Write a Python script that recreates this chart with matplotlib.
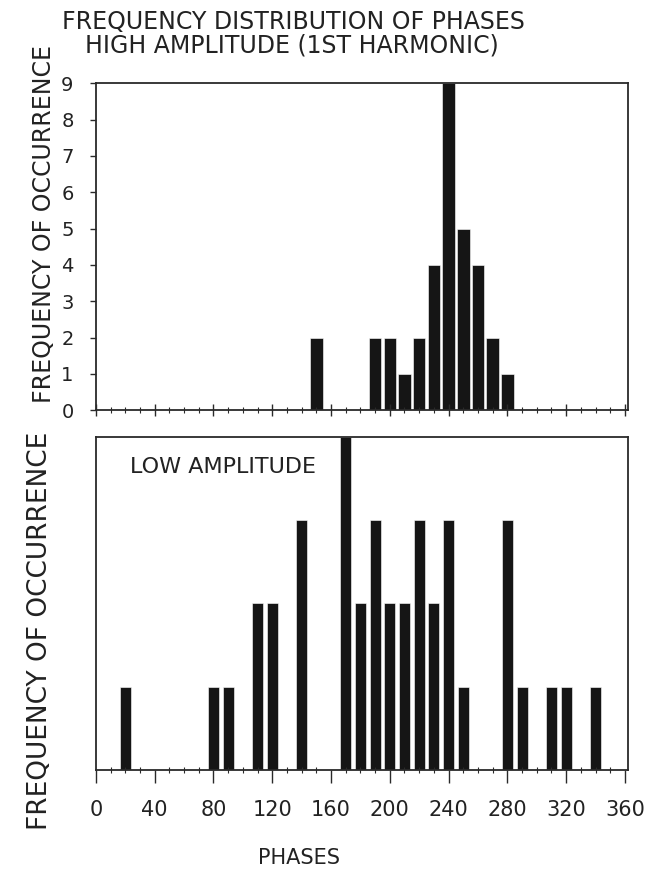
import matplotlib

matplotlib.use("Agg")
import matplotlib.pyplot as plt
import numpy as np

# ---------- data ----------
high_phase = [150, 190, 200, 210, 220, 230, 240, 250, 260, 270, 280]
high_count = [2, 2, 2, 1, 2, 4, 9, 5, 4, 2, 1]

low_phase = [20, 80, 90, 110, 120, 140, 170, 180, 190, 200, 210, 220, 230, 240, 250, 280, 290, 310, 320, 340]
low_count = [1, 1, 1, 2, 2, 3, 4, 2, 3, 2, 2, 3, 2, 3, 1, 3, 1, 1, 1, 1]

x_major = list(range(0, 361, 40))
x_minor = list(range(0, 361, 10))
high_yticks = list(range(0, 10))

INK = "#151515"
FRAME = "#2a2a2a"

fig = plt.figure(figsize=(6.52, 8.86), dpi=100)
fig.patch.set_facecolor("white")

ax1 = fig.add_axes([0.147, 0.537, 0.816, 0.369])
ax2 = fig.add_axes([0.147, 0.131, 0.816, 0.376])

# ---------- top: high amplitude ----------
ax1.bar(high_phase, high_count, width=8.5, color=INK, edgecolor="white", linewidth=0.4)
ax1.set_xlim(0, 362)
ax1.set_ylim(0, 9)
ax1.set_yticks(high_yticks)
ax1.set_yticklabels([str(v) for v in high_yticks], fontsize=14, color="#222")
ax1.set_xticks(x_major)
ax1.set_xticks(x_minor, minor=True)
ax1.set_xticklabels([])
ax1.tick_params(axis="y", direction="out", length=4, width=1, colors=FRAME, labelcolor="#222", pad=12)
ax1.tick_params(axis="x", which="major", direction="inout", length=8, width=1, colors=FRAME)
ax1.tick_params(axis="x", which="minor", direction="inout", length=5, width=0.8, colors=FRAME)

# ---------- bottom: low amplitude ----------
ax2.bar(low_phase, low_count, width=7.5, color=INK, edgecolor="white", linewidth=0.4)
ax2.set_xlim(0, 362)
ax2.set_ylim(0, 4)
ax2.set_yticks(range(0, 5))
ax2.set_yticklabels([])
ax2.tick_params(axis="y", length=0)
ax2.set_xticks(x_major)
ax2.set_xticks(x_minor, minor=True)
ax2.set_xticklabels([str(v) for v in x_major], fontsize=15, color="#222")
ax2.tick_params(axis="x", which="major", direction="out", length=9, width=1, colors=FRAME,
                labelcolor="#222", pad=13)
ax2.tick_params(axis="x", which="minor", direction="inout", length=5, width=0.8, colors=FRAME)
ax2.text(0.065, 0.91, "LOW AMPLITUDE", transform=ax2.transAxes, fontsize=16,
         color="#222", ha="left", va="center")

for ax in (ax1, ax2):
    for s in ax.spines.values():
        s.set_color(FRAME)
        s.set_linewidth(1.3)

# ---------- text ----------
fig.text(0.095, 0.975, "FREQUENCY DISTRIBUTION OF PHASES", fontsize=17, color="#222",
         ha="left", va="center")
fig.text(0.13, 0.949, "HIGH AMPLITUDE (1ST HARMONIC)", fontsize=17, color="#222",
         ha="left", va="center")
fig.text(0.459, 0.032, "PHASES", fontsize=15, color="#222", ha="center", va="center")

fig.text(0.062, 0.288, "FREQUENCY OF OCCURRENCE", fontsize=19, color="#222",
         rotation=90, ha="center", va="center")
fig.text(0.068, 0.747, "FREQUENCY OF OCCURRENCE", fontsize=17, color="#222",
         rotation=90, ha="center", va="center")

fig.savefig("out.png", dpi=100, facecolor="white")
